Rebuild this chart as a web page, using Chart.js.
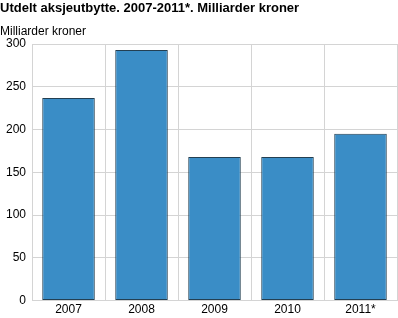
<!DOCTYPE html>
<html>
<head>
<meta charset="utf-8">
<script src="https://cdn.jsdelivr.net/npm/chart.js@4"></script>
<style>
  html, body { margin: 0; padding: 0; background: #fff; }
  #wrap { width: 398px; height: 318px; }
</style>
</head>
<body>
<div id="wrap"><canvas id="utbytteChart"></canvas></div>
<script>
const years = ['2007', '2008', '2009', '2010', '2011*'];
const utbytte = [237, 293, 168, 168, 195];
const yTicks = [0, 50, 100, 150, 200, 250, 300];

Chart.defaults.font.family = '"Liberation Sans", Arial, sans-serif';
Chart.defaults.color = '#000';

const ctx = document.getElementById('utbytteChart').getContext('2d');

new Chart(ctx, {
    type: 'bar',
    data: {
        labels: years,
        datasets: [{
            label: 'Milliarder kroner',
            data: utbytte,
            backgroundColor: '#3a8dc6',
            borderColor: '#233f52',
            borderWidth: 1,
            borderSkipped: false,
            categoryPercentage: 0.72,
            barPercentage: 1.0
        }]
    },
    options: {
        responsive: true,
        maintainAspectRatio: false,
        animation: false,
        layout: { padding: { left: 0, right: 1, top: 0, bottom: 0 } },
        scales: {
            x: {
                grid: { color: '#d4d4d4', drawTicks: false, offset: true },
                border: { color: '#d4d4d4' },
                ticks: { font: { size: 12 }, padding: 1.5 }
            },
            y: {
                min: 0,
                max: 300,
                afterBuildTicks: axis => { axis.ticks = yTicks.map(v => ({ value: v })); },
                grid: { color: '#d4d4d4', drawTicks: false },
                border: { color: '#d4d4d4' },
                ticks: { font: { size: 12 }, padding: 6 }
            }
        },
        plugins: {
            legend: { display: false },
            tooltip: { enabled: false },
            title: {
                display: true,
                text: 'Utdelt aksjeutbytte. 2007-2011*. Milliarder kroner',
                align: 'start',
                font: { size: 13, weight: 'bold' },
                padding: { top: 1, bottom: 8 }
            },
            subtitle: {
                display: true,
                text: 'Milliarder kroner',
                align: 'start',
                font: { size: 12 },
                padding: { top: 0, bottom: 5 }
            }
        }
    }
});
</script>
</body>
</html>
